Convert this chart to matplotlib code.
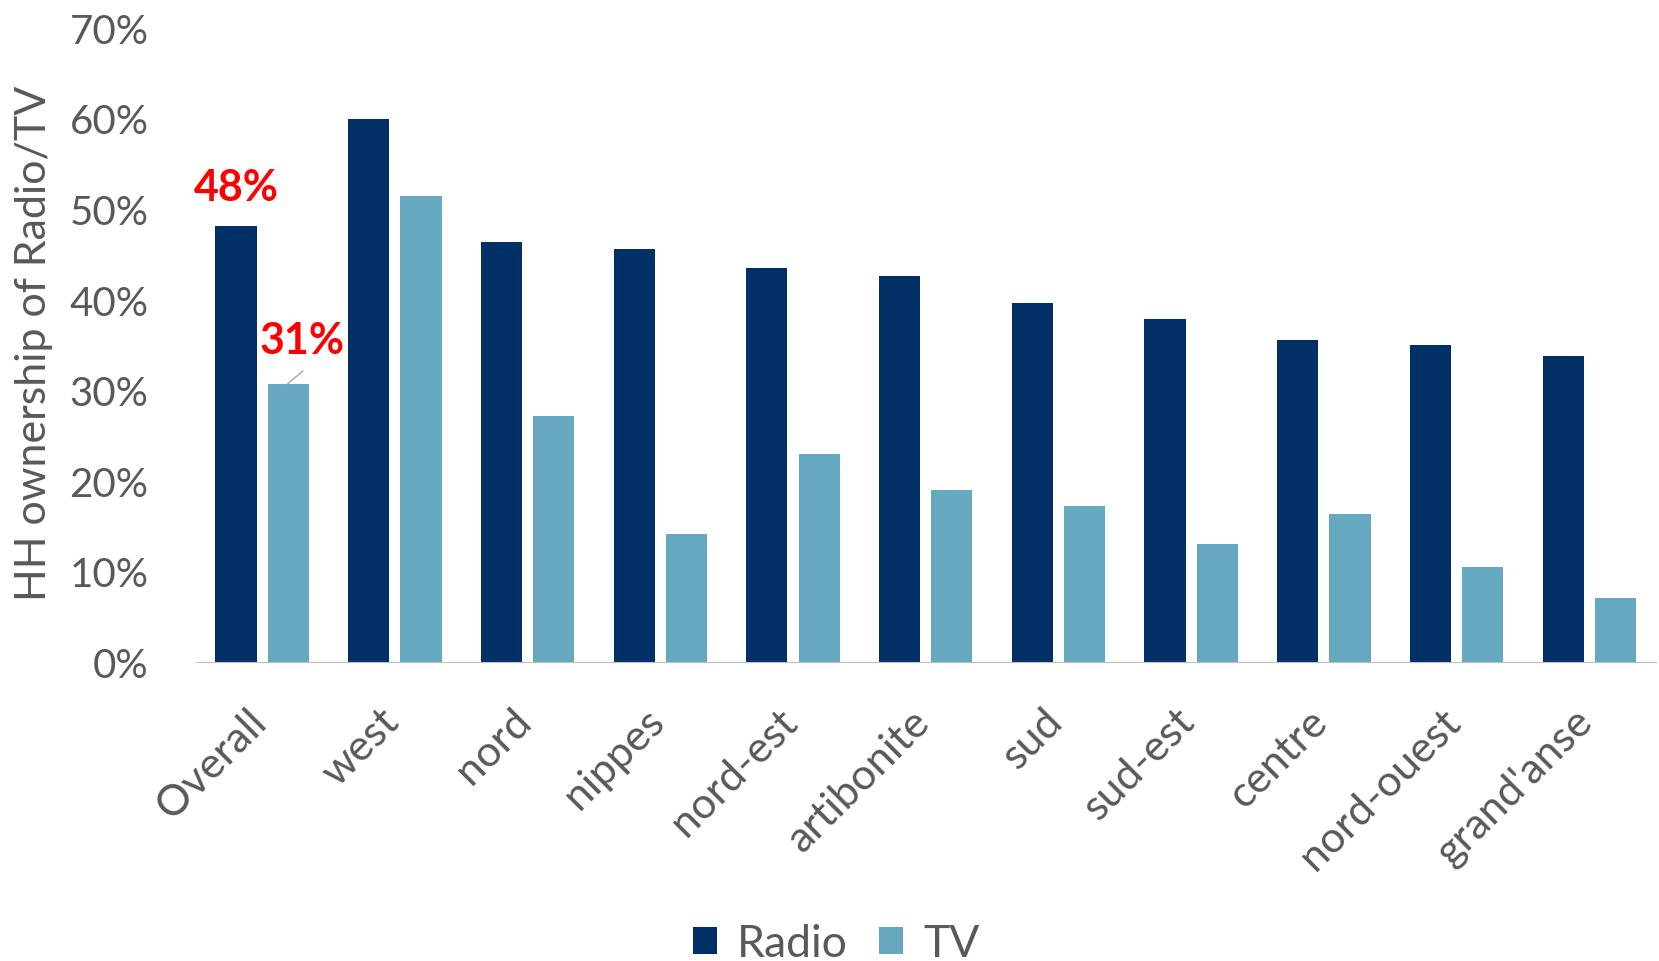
#!/usr/bin/env python3

import matplotlib.pyplot as plt
import matplotlib.transforms as mtransforms
import numpy as np
from matplotlib.ticker import PercentFormatter

plt.rcParams["font.family"] = ["Lato", "DejaVu Sans"]

REGIONS = ["Overall", "west", "nord", "nippes", "nord-est", "artibonite",
           "sud", "sud-est", "centre", "nord-ouest", "grand'anse"]
RADIO = [48.1, 59.9, 46.4, 45.6, 43.5, 42.6, 39.6, 37.9, 35.5, 35.0, 33.8]
TV = [30.7, 51.4, 27.1, 14.1, 23.0, 19.0, 17.2, 13.0, 16.3, 10.5, 7.1]

RADIO_COLOR = "#003066"
TV_COLOR = "#65A8BF"
TEXT_COLOR = "#595959"

fig = plt.figure(figsize=(16.59, 9.62), dpi=100)
ax = fig.add_axes([0.118, 0.311, 0.880, 0.659])

x = np.arange(len(REGIONS))
width = 0.31
offset = 0.197
ax.bar(x - offset, RADIO, width, color=RADIO_COLOR, label="Radio")
ax.bar(x + offset, TV, width, color=TV_COLOR, label="TV")

# highlight overall values
ax.text(x[0] - offset, 52.4, f"{RADIO[0]:.0f}%", color="red", fontsize=31,
        fontweight="bold", ha="center", va="center")
ax.text(x[0] + 0.3, 35.5, f"{TV[0]:.0f}%", color="red", fontsize=31,
        fontweight="bold", ha="center", va="center")
ax.plot([x[0] + 0.193, x[0] + 0.306], [TV[0], 32.1], color="#A6A6A6", lw=1)

ax.set_xlim(-0.5, len(REGIONS) - 0.5)
ax.set_ylim(0, 70)
ax.set_yticks(np.arange(0, 71, 10))
ax.yaxis.set_major_formatter(PercentFormatter(decimals=0))
ax.set_xticks(x)
ax.set_xticklabels(REGIONS, rotation=45, ha="right", rotation_mode="anchor")

for side in ("top", "right", "left"):
    ax.spines[side].set_visible(False)
ax.spines["bottom"].set_color("#BFBFBF")
ax.tick_params(axis="y", length=0, pad=34, labelsize=29, labelcolor=TEXT_COLOR)
ax.tick_params(axis="x", length=0, pad=14, labelsize=31, labelcolor=TEXT_COLOR)

# nudge category labels down-left like the original
shift = mtransforms.ScaledTranslation(-0.16, -0.20, fig.dpi_scale_trans)
for lbl in ax.get_xticklabels():
    lbl.set_transform(lbl.get_transform() + shift)

ax.set_ylabel("HH ownership of Radio/TV", fontsize=31, color=TEXT_COLOR)
ax.yaxis.set_label_coords(-0.098, 0.504)

fig.legend(loc="lower center", bbox_to_anchor=(0.504, -0.045), ncol=2,
           frameon=False, fontsize=32, labelcolor=TEXT_COLOR,
           handlelength=0.55, handleheight=0.55, handletextpad=0.45,
           columnspacing=0.7)

plt.savefig("out.png", dpi=100)
plt.close()
